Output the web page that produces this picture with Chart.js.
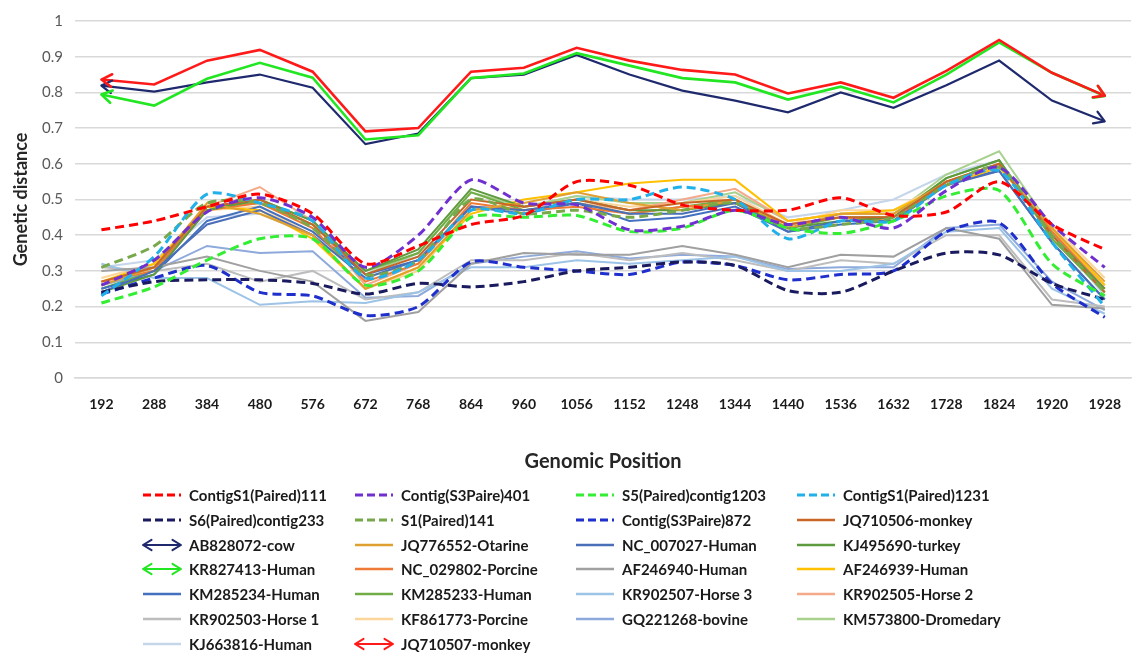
<!DOCTYPE html>
<html>
<head>
<meta charset="utf-8">
<script src="https://cdn.jsdelivr.net/npm/chart.js@4.4.1/dist/chart.umd.min.js"></script>
<style>
html,body{margin:0;padding:0;background:#fff;}
#wrap{width:1139px;height:670px;position:relative;}
</style>
</head>
<body>
<div id="wrap"><canvas id="c" width="1139" height="670"></canvas></div>
<script>
// ---- categories & tick labels ----
const categories = ['192','288','384','480','576','672','768','864','960','1056','1152','1248','1344','1440','1536','1632','1728','1824','1920','1928'];
const yTickLabels = ['0','0.1','0.2','0.3','0.4','0.5','0.6','0.7','0.8','0.9','1'];

// ---- series values ----
const contigS1Paired111   = [0.415,0.44,0.48,0.515,0.46,0.32,0.37,0.43,0.455,0.55,0.54,0.485,0.47,0.47,0.505,0.455,0.465,0.55,0.43,0.36];
const contigS3Paire401    = [0.26,0.33,0.465,0.505,0.45,0.31,0.40,0.555,0.49,0.485,0.415,0.425,0.47,0.43,0.45,0.42,0.525,0.59,0.43,0.31];
const s5PairedContig1203  = [0.21,0.255,0.33,0.39,0.39,0.26,0.30,0.45,0.45,0.455,0.41,0.42,0.47,0.42,0.405,0.44,0.51,0.525,0.32,0.23];
const contigS1Paired1231  = [0.23,0.34,0.515,0.49,0.44,0.28,0.33,0.47,0.46,0.50,0.50,0.535,0.50,0.39,0.44,0.44,0.54,0.58,0.38,0.20];
const s6PairedContig233   = [0.24,0.27,0.275,0.275,0.265,0.235,0.265,0.255,0.27,0.30,0.31,0.325,0.315,0.245,0.24,0.30,0.35,0.345,0.265,0.22];
const s1Paired141         = [0.31,0.37,0.49,0.49,0.42,0.29,0.33,0.50,0.46,0.47,0.45,0.47,0.49,0.42,0.43,0.45,0.54,0.59,0.40,0.24];
const contigS3Paire872    = [0.235,0.28,0.315,0.24,0.23,0.175,0.20,0.325,0.31,0.30,0.29,0.325,0.315,0.275,0.29,0.30,0.41,0.435,0.265,0.17];
const jq710506Monkey      = [0.27,0.31,0.48,0.50,0.43,0.29,0.34,0.50,0.48,0.50,0.47,0.49,0.50,0.43,0.45,0.45,0.55,0.60,0.40,0.24];
const ab828072Cow         = [0.819,0.802,0.828,0.85,0.813,0.655,0.685,0.84,0.85,0.905,0.85,0.805,0.777,0.744,0.80,0.757,0.82,0.889,0.777,0.719];
const jq776552Otarine     = [0.26,0.31,0.49,0.46,0.40,0.25,0.31,0.47,0.49,0.52,0.49,0.47,0.50,0.42,0.46,0.46,0.55,0.60,0.42,0.27];
const nc007027Human       = [0.24,0.30,0.43,0.47,0.40,0.28,0.33,0.48,0.47,0.49,0.46,0.46,0.49,0.41,0.44,0.44,0.54,0.58,0.38,0.22];
const kj495690Turkey      = [0.24,0.29,0.47,0.50,0.44,0.30,0.36,0.53,0.48,0.50,0.47,0.47,0.49,0.42,0.44,0.45,0.56,0.61,0.40,0.25];
const kr827413Human       = [0.794,0.763,0.838,0.883,0.841,0.668,0.68,0.84,0.853,0.91,0.875,0.84,0.828,0.78,0.816,0.772,0.85,0.94,0.855,0.79];
const nc029802Porcine     = [0.27,0.30,0.47,0.49,0.42,0.27,0.32,0.49,0.47,0.48,0.46,0.48,0.49,0.43,0.45,0.44,0.55,0.60,0.41,0.25];
const af246940Human       = [0.30,0.31,0.34,0.30,0.27,0.16,0.185,0.32,0.35,0.345,0.345,0.37,0.345,0.31,0.345,0.34,0.42,0.39,0.205,0.195];
const af246939Human       = [0.27,0.32,0.48,0.47,0.39,0.25,0.31,0.46,0.50,0.52,0.545,0.555,0.555,0.44,0.46,0.47,0.54,0.59,0.42,0.26];
const km285234Human       = [0.25,0.29,0.44,0.48,0.41,0.29,0.33,0.48,0.46,0.49,0.44,0.45,0.48,0.41,0.43,0.44,0.55,0.58,0.38,0.22];
const km285233Human       = [0.25,0.30,0.48,0.49,0.43,0.30,0.35,0.52,0.47,0.49,0.46,0.48,0.50,0.42,0.45,0.45,0.56,0.61,0.39,0.24];
const kr902507Horse3      = [0.32,0.28,0.28,0.205,0.215,0.21,0.24,0.31,0.31,0.33,0.32,0.33,0.34,0.30,0.30,0.32,0.41,0.42,0.25,0.18];
const kr902505Horse2      = [0.27,0.31,0.48,0.535,0.44,0.26,0.32,0.48,0.47,0.49,0.47,0.50,0.53,0.44,0.46,0.46,0.54,0.60,0.41,0.26];
const kr902503Horse1      = [0.31,0.30,0.32,0.27,0.30,0.22,0.24,0.33,0.33,0.35,0.33,0.35,0.33,0.30,0.33,0.32,0.40,0.40,0.22,0.20];
const kf861773Porcine     = [0.28,0.32,0.47,0.48,0.40,0.25,0.30,0.47,0.48,0.50,0.48,0.49,0.51,0.43,0.47,0.47,0.55,0.59,0.43,0.28];
const gq221268Bovine      = [0.26,0.30,0.37,0.35,0.355,0.225,0.23,0.32,0.34,0.355,0.335,0.345,0.34,0.305,0.31,0.31,0.42,0.43,0.27,0.19];
const km573800Dromedary   = [0.26,0.30,0.48,0.50,0.44,0.29,0.35,0.52,0.48,0.51,0.49,0.49,0.52,0.44,0.46,0.46,0.57,0.635,0.42,0.24];
const kj663816Human       = [0.31,0.33,0.45,0.46,0.40,0.30,0.34,0.47,0.48,0.51,0.50,0.50,0.51,0.45,0.47,0.50,0.57,0.61,0.41,0.23];
const jq710507Monkey      = [0.836,0.822,0.889,0.919,0.858,0.691,0.70,0.858,0.869,0.925,0.889,0.863,0.85,0.797,0.828,0.785,0.86,0.947,0.855,0.791];

// ---- dataset styling ----
function dashed(label, data, color){
  return {label, data, borderColor: color, backgroundColor: color, borderWidth: 3, borderDash: [9,5], tension: 0.25, kind: 'dash'};
}
function solid(label, data, color, w){
  return {label, data, borderColor: color, backgroundColor: color, borderWidth: w || 2, tension: 0, kind: 'solid'};
}
function arrowed(label, data, color, w, ord){
  return {label, data, borderColor: color, backgroundColor: color, borderWidth: w || 2.5, tension: 0, kind: 'arrow', order: ord};
}

const datasets = [
  dashed('ContigS1(Paired)111', contigS1Paired111, '#FF0000'),
  dashed('Contig(S3Paire)401', contigS3Paire401, '#7030D0'),
  dashed('S5(Paired)contig1203', s5PairedContig1203, '#33EE33'),
  dashed('ContigS1(Paired)1231', contigS1Paired1231, '#22B0E8'),
  dashed('S6(Paired)contig233', s6PairedContig233, '#1A1A5E'),
  dashed('S1(Paired)141', s1Paired141, '#77A84A'),
  dashed('Contig(S3Paire)872', contigS3Paire872, '#1F2FCC'),
  solid('JQ710506-monkey', jq710506Monkey, '#C8662A'),
  arrowed('AB828072-cow', ab828072Cow, '#1F2A6E', 2.2, -1),
  solid('JQ776552-Otarine', jq776552Otarine, '#E0A030'),
  solid('NC_007027-Human', nc007027Human, '#4A6FB8'),
  solid('KJ495690-turkey', kj495690Turkey, '#5E9A3E'),
  arrowed('KR827413-Human', kr827413Human, '#22E622', 2.6, -2),
  solid('NC_029802-Porcine', nc029802Porcine, '#EE7A36'),
  solid('AF246940-Human', af246940Human, '#A0A0A0'),
  solid('AF246939-Human', af246939Human, '#FFC000'),
  solid('KM285234-Human', km285234Human, '#4470C0'),
  solid('KM285233-Human', km285233Human, '#70AD47'),
  solid('KR902507-Horse 3', kr902507Horse3, '#9DC3E6'),
  solid('KR902505-Horse 2', kr902505Horse2, '#F4A988'),
  solid('KR902503-Horse 1', kr902503Horse1, '#BDBDBD'),
  solid('KF861773-Porcine', kf861773Porcine, '#FBD59A'),
  solid('GQ221268-bovine', gq221268Bovine, '#8EA9DB'),
  solid('KM573800-Dromedary', km573800Dromedary, '#A9D18E'),
  solid('KJ663816-Human', kj663816Human, '#C5D5EA'),
  arrowed('JQ710507-monkey', jq710507Monkey, '#FF1A1A', 2.6, -3)
];

function arrowHead(ctx, tipX, tipY, fromX, fromY, size, color, width){
  const a = Math.atan2(tipY - fromY, tipX - fromX);
  const sp = 0.55;
  ctx.save();
  ctx.strokeStyle = color;
  ctx.lineWidth = width;
  ctx.setLineDash([]);
  ctx.lineCap = 'round';
  ctx.lineJoin = 'round';
  ctx.beginPath();
  ctx.moveTo(tipX - size*Math.cos(a - sp), tipY - size*Math.sin(a - sp));
  ctx.lineTo(tipX, tipY);
  ctx.lineTo(tipX - size*Math.cos(a + sp), tipY - size*Math.sin(a + sp));
  ctx.stroke();
  ctx.restore();
}

const arrowPlugin = {
  id: 'arrows',
  afterDatasetsDraw(chart){
    const ctx = chart.ctx;
    const idx = chart.data.datasets.map((d, i) => i).filter(i => chart.data.datasets[i].kind === 'arrow')
      .sort((a, b) => (chart.data.datasets[b].order || 0) - (chart.data.datasets[a].order || 0));
    idx.forEach(i => {
      const ds = chart.data.datasets[i];
      const pts = chart.getDatasetMeta(i).data;
      const n = pts.length;
      arrowHead(ctx, pts[0].x, pts[0].y, pts[1].x, pts[1].y, 12, ds.borderColor, ds.borderWidth);
      arrowHead(ctx, pts[n-1].x, pts[n-1].y, pts[n-2].x, pts[n-2].y, 12, ds.borderColor, ds.borderWidth);
    });
  }
};

const legendCols = [143, 355, 576, 797];
const legendRow0 = 495, legendRowStep = 24.8;
const legendPlugin = {
  id: 'gridLegend',
  afterDraw(chart){
    const ctx = chart.ctx;
    ctx.save();
    ctx.font = 'bold 15px Lato';
    ctx.textBaseline = 'middle';
    ctx.textAlign = 'left';
    chart.data.datasets.forEach((ds, i) => {
      const col = i % 4, row = Math.floor(i / 4);
      const x = legendCols[col], y = Math.round(legendRow0 + row * legendRowStep);
      const w = 38;
      ctx.save();
      ctx.strokeStyle = ds.borderColor;
      if (ds.kind === 'dash') {
        ctx.lineWidth = 3; ctx.setLineDash([8,4]);
      } else if (ds.kind === 'arrow') {
        ctx.lineWidth = 2; ctx.setLineDash([]);
      } else {
        ctx.lineWidth = 2.5; ctx.setLineDash([]);
      }
      ctx.beginPath();
      ctx.moveTo(x, y); ctx.lineTo(x + w, y);
      ctx.stroke();
      ctx.restore();
      if (ds.kind === 'arrow') {
        arrowHead(ctx, x, y, x + w, y, 10, ds.borderColor, 2);
        arrowHead(ctx, x + w, y, x, y, 10, ds.borderColor, 2);
      }
      ctx.fillStyle = '#1a1a1a';
      ctx.fillText(ds.label, x + w + 8, y + 1);
    });
    ctx.restore();
  }
};

new Chart(document.getElementById('c'), {
  type: 'line',
  data: { labels: categories, datasets },
  options: {
    responsive: false,
    animation: false,
    devicePixelRatio: 1,
    layout: { padding: { top: 19, right: 0, bottom: 196, left: 0 } },
    elements: { point: { radius: 0, hoverRadius: 0 }, line: { capBezierPoints: true } },
    plugins: { legend: { display: false }, tooltip: { enabled: false } },
    scales: {
      x: {
        type: 'category',
        offset: true,
        grid: { display: false, drawTicks: false },
        border: { display: true, color: '#D9D9D9', width: 1.5 },
        ticks: { color: '#1a1a1a', font: { family: 'Lato', weight: 'bold', size: 14 }, padding: 18, maxRotation: 0, autoSkip: false },
        title: { display: true, text: 'Genomic Position', color: '#262626', font: { family: 'Lato', weight: 'bold', size: 20 }, padding: { top: 0, bottom: 0 } },
        afterFit(scale){ scale.height = 96; }
      },
      y: {
        min: 0, max: 1,
        grid: { color: '#D9D9D9', lineWidth: 1.5, drawTicks: false },
        border: { display: false },
        ticks: { stepSize: 0.1, color: '#595959', font: { family: 'Lato', size: 15 }, padding: 12,
                 callback: (v, i) => yTickLabels[i] },
        title: { display: true, text: 'Genetic distance', color: '#262626', font: { family: 'Lato', weight: 'bold', size: 18 }, padding: { top: 10, bottom: 0 } },
        afterFit(scale){ scale.width = 75; }
      }
    }
  },
  plugins: [arrowPlugin, legendPlugin]
});
</script>
</body>
</html>
